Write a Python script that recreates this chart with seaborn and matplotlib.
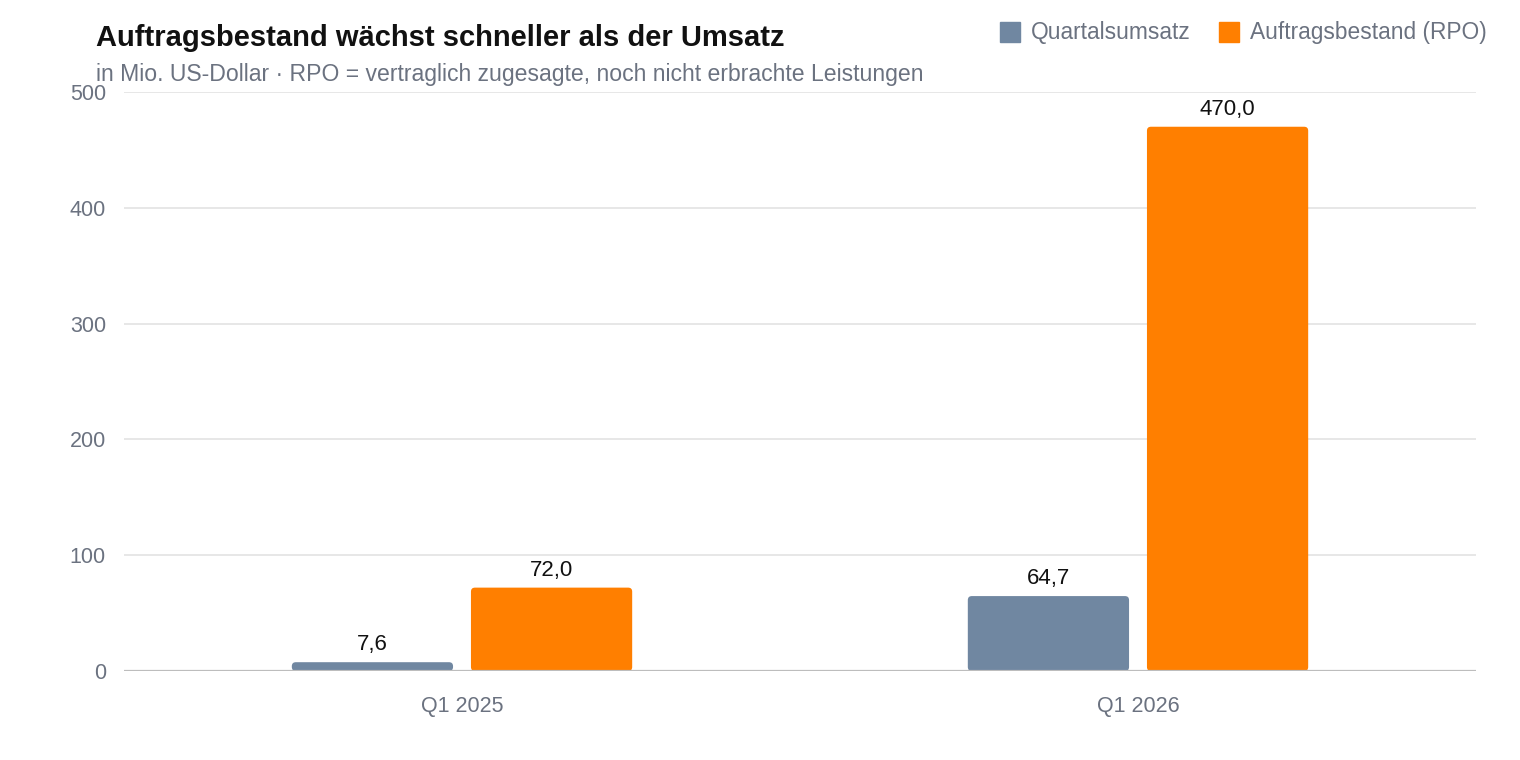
import pandas as pd
import seaborn as sns
import matplotlib.pyplot as plt
from matplotlib.patches import FancyBboxPatch
from matplotlib.lines import Line2D

# chart data
quarters = ["Q1 2025", "Q1 2026"]
series = ["Quartalsumsatz", "Auftragsbestand (RPO)"]
umsatz = [7.6, 64.7]
rpo = [72.0, 470.0]
y_ticks = [0, 100, 200, 300, 400, 500]

colors = {"Quartalsumsatz": "#7087a1", "Auftragsbestand (RPO)": "#ff7f00"}
tick_grey = "#6b7280"

df = pd.DataFrame({
    "quarter": quarters * 2,
    "series": [series[0]] * len(quarters) + [series[1]] * len(quarters),
    "value": umsatz + rpo,
})

sns.set_style("white")
plt.rcParams['font.family'] = ['Liberation Sans', 'DejaVu Sans']

fig = plt.figure(figsize=(15.2, 7.6), dpi=100)
ax = fig.add_axes([124 / 1520, 89 / 760, 1352 / 1520, 579 / 760])

sns.barplot(data=df, x="quarter", y="value", hue="series", hue_order=series,
            palette=colors, width=0.53, gap=0.1, legend=False, ax=ax,
            saturation=1, err_kws={"linewidth": 0})

ax.set_xlim(-0.5, 1.5)
ax.set_ylim(0, 500)

# swap plain bars for slightly rounded ones
px_x = 2 / 1352
px_y = 500 / 579
bars = list(ax.patches)
for p in bars:
    x, y0 = p.get_x(), p.get_y()
    w, h = p.get_width(), p.get_height()
    r = 4 * px_x
    rb = FancyBboxPatch((x, y0), w, h,
                        boxstyle=f"round,pad=0,rounding_size={r}",
                        mutation_aspect=px_y / px_x,
                        facecolor=p.get_facecolor(), edgecolor="none", zorder=3)
    p.remove()
    ax.add_patch(rb)
    ax.text(x + w / 2, y0 + h + 12 * px_y, f"{h:.1f}".replace(".", ","),
            ha="center", va="baseline", fontsize=16, color="#111111")

ax.set_yticks(y_ticks)
ax.yaxis.grid(True, color="#e3e3e3", linewidth=1.2, zorder=0)
ax.set_axisbelow(True)
ax.axhline(0, color="#bdbdbd", linewidth=1.6, zorder=4)
for s in ["top", "right", "left", "bottom"]:
    ax.spines[s].set_visible(False)
ax.tick_params(axis="both", length=0, labelsize=15.5, labelcolor=tick_grey)
ax.tick_params(axis="y", pad=13)
ax.tick_params(axis="x", pad=18)
ax.set_xlabel("")
ax.set_ylabel("")

fig.text(96 / 1520, 1 - 38 / 760, "Auftragsbestand wächst schneller als der Umsatz",
         fontsize=21, fontweight="bold", color="#111111", va="center", ha="left")
fig.text(96 / 1520, 1 - 74 / 760,
         "in Mio. US-Dollar · RPO = vertraglich zugesagte, noch nicht erbrachte Leistungen",
         fontsize=16.6, color=tick_grey, va="center", ha="left")

handles = [Line2D([], [], marker="s", linestyle="none", markersize=15,
                  markerfacecolor=colors[s], markeredgecolor=colors[s]) for s in series]
fig.legend(handles, series, loc="center right", bbox_to_anchor=(1507 / 1520, 1 - 33 / 760),
           ncol=2, frameon=False, fontsize=16.4, labelcolor=tick_grey,
           handletextpad=0.4, columnspacing=1.2, handlelength=1.0)

fig.savefig("out.png", dpi=100)
